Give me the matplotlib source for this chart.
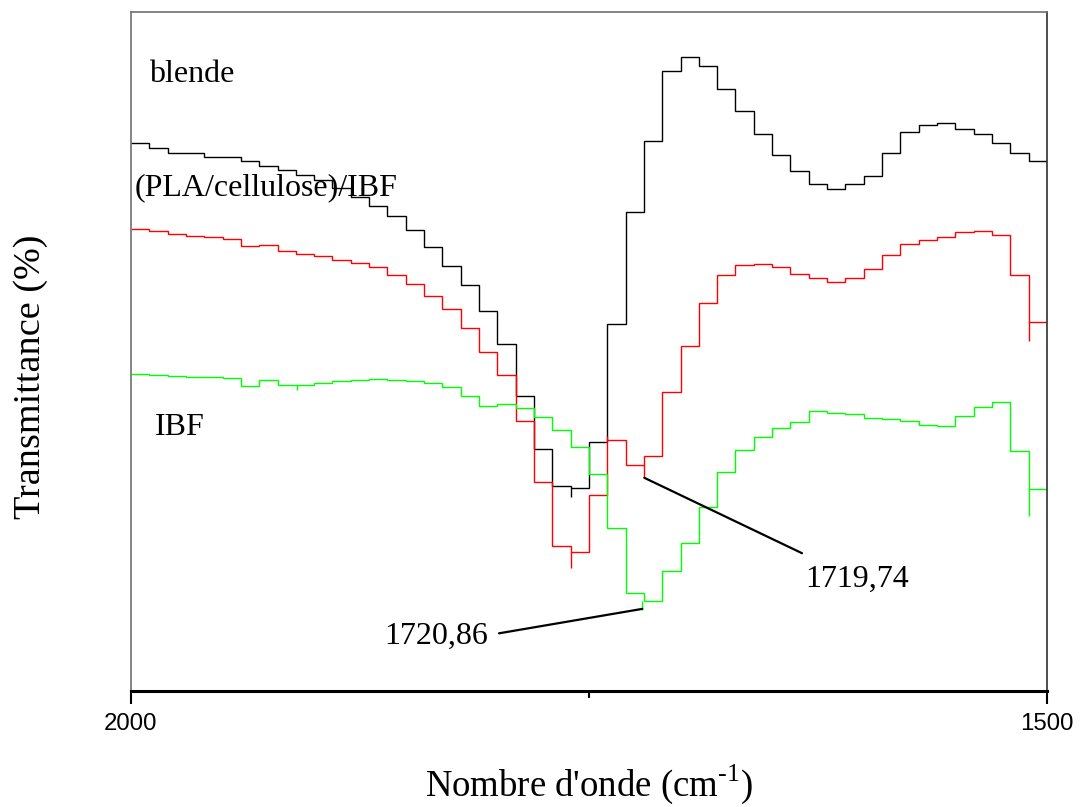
import numpy as np
import matplotlib.pyplot as plt

plt.rcParams['font.family'] = ['Liberation Serif', 'DejaVu Serif']
plt.rcParams['mathtext.fontset'] = 'custom'
plt.rcParams['mathtext.rm'] = 'Liberation Serif'

# FTIR spectra, 10 cm-1 bins from 2000 down to 1500 cm-1 (offset transmittance)
edges = np.arange(2000, 1499, -10)

blende = [80.7, 80.0, 79.3, 79.3, 78.7, 78.7, 78.0, 77.3, 76.7, 76.0,
          75.3, 74.1, 72.8, 71.5, 69.9, 67.9, 65.4, 62.6, 59.8, 55.9,
          51.1, 43.4, 35.7, 30.2, 29.9, 36.7, 54.0, 70.5, 81.0, 91.3,
          93.4, 92.0, 88.7, 85.4, 82.0, 78.9, 76.6, 74.6, 73.9, 74.6,
          75.9, 79.3, 82.3, 83.3, 83.7, 82.7, 82.0, 80.7, 79.3, 78.0]

pla_cell_ibf = [68.0, 67.7, 67.3, 67.0, 66.8, 66.6, 65.6, 65.7, 64.8, 64.3,
                64.1, 63.5, 63.1, 62.5, 61.3, 60.0, 58.2, 56.2, 53.4, 49.9,
                46.5, 39.7, 30.8, 21.4, 20.5, 28.9, 37.0, 33.3, 34.6, 44.1,
                50.8, 57.1, 61.3, 62.7, 62.9, 62.4, 61.4, 60.9, 60.3, 60.8,
                62.1, 64.2, 65.8, 66.4, 66.8, 67.6, 67.7, 67.1, 61.3, 54.3]

ibf = [46.7, 46.6, 46.4, 46.3, 46.2, 46.1, 44.9, 45.8, 45.0, 45.1,
       45.3, 45.6, 45.8, 46.0, 45.8, 45.7, 45.3, 44.8, 43.5, 42.0,
       42.3, 41.7, 40.4, 38.4, 36.0, 31.9, 24.0, 14.5, 13.2, 17.7,
       21.8, 27.1, 32.3, 35.5, 37.4, 38.8, 39.6, 41.2, 40.9, 40.8,
       40.2, 40.0, 39.7, 39.2, 39.0, 40.5, 41.9, 42.5, 35.3, 29.8]

# single-point extremes that stick out of the binned steps
blende_spk_x = [1759.8]
blende_spk_lo = [28.6]
blende_spk_hi = [29.9]
pla_spk_x = [1759.8, 1740.2, 1719.74, 1509.8]
pla_spk_lo = [18.1, 37.0, 31.4, 51.6]
pla_spk_hi = [20.5, 37.6, 33.3, 54.3]
ibf_spk_x = [1909.6, 1720.86, 1509.8]
ibf_spk_lo = [44.3, 12.0, 25.8]
ibf_spk_hi = [45.0, 13.2, 29.8]

# carbonyl peak positions marked on the plot
peak_red = (1719.74, 31.4)
peak_green = (1720.86, 12.1)

fig = plt.figure(figsize=(10.85, 8.07), dpi=100)
ax = fig.add_axes([0.1207, 0.1437, 0.8442, 0.8414])

ax.stairs(blende, edges, baseline=None, color='black', lw=1.0)
ax.stairs(pla_cell_ibf, edges, baseline=None, color='#ff0000', lw=1.0)
ax.stairs(ibf, edges, baseline=None, color='#00ff00', lw=1.0)
ax.vlines(blende_spk_x, blende_spk_lo, blende_spk_hi, color='black', lw=1.0)
ax.vlines(pla_spk_x, pla_spk_lo, pla_spk_hi, color='#ff0000', lw=1.0)
ax.vlines(ibf_spk_x, ibf_spk_lo, ibf_spk_hi, color='#00ff00', lw=1.0)

ax.set_xlim(2000, 1500)
ax.set_ylim(0, 100)

# curve labels
ax.text(1990.2, 89.7, 'blende', fontsize=23, va='baseline', ha='left')
ax.text(1997.8, 73.0, '(PLA/cellulose)/IBF', fontsize=23, va='baseline', ha='left')
ax.text(1986.9, 37.7, 'IBF', fontsize=23, va='baseline', ha='left')

# peak annotations with leader lines
ax.annotate('', xy=peak_red, xytext=(1633.7, 20.3),
            arrowprops=dict(arrowstyle='-', color='black', lw=1.6, shrinkA=0, shrinkB=0))
ax.text(1603.7, 16.5, '1719,74', fontsize=23, ha='center', va='center')
ax.annotate('', xy=peak_green, xytext=(1799.1, 8.5),
            arrowprops=dict(arrowstyle='-', color='black', lw=1.6, shrinkA=0, shrinkB=0))
ax.text(1833.2, 8.0, '1720,86', fontsize=23, ha='center', va='center')

# axes frame
for side in ['left', 'top']:
    ax.spines[side].set_color('#707070')
    ax.spines[side].set_linewidth(1.2)
ax.spines['right'].set_color('#303030')
ax.spines['right'].set_linewidth(1.2)
ax.spines['bottom'].set_linewidth(2.2)

ax.set_xticks([2000, 1500])
ax.set_xticks([1750], minor=True)
ax.tick_params(axis='x', which='major', direction='out', length=9.5, width=1.5, pad=6,
               labelsize=17.3, labelfontfamily='Liberation Sans')
ax.tick_params(axis='x', which='minor', direction='out', length=4.7, width=1.5)
ax.set_yticks([])

ax.set_xlabel("Nombre d'onde (cm$^{\\text{-1}}$)", fontsize=26.5)
ax.xaxis.set_label_coords(0.5, -0.106)
ax.set_ylabel('Transmittance (%)', fontsize=27.5)
ax.yaxis.set_label_coords(-0.091, 0.463)

fig.savefig('out.png', dpi=100)
